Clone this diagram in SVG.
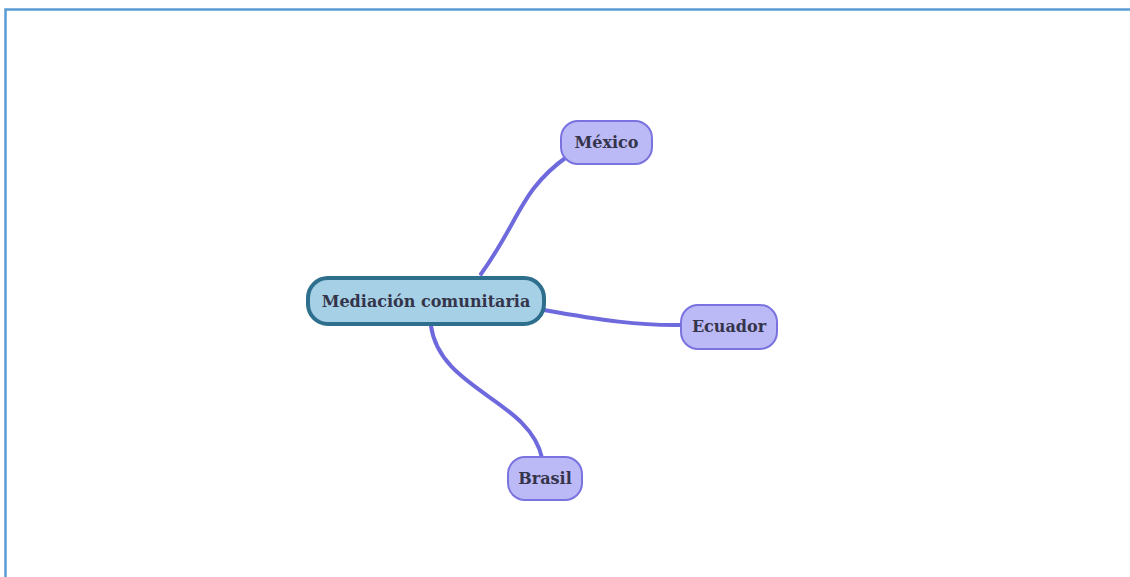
<svg xmlns="http://www.w3.org/2000/svg" width="1130" height="577" viewBox="0 0 1130 577">
<style>
.frame{fill:none;stroke:#5b9bd5;stroke-width:2.5}
.edge{fill:none;stroke:#6e69dc;stroke-width:4;stroke-linecap:round}
.leaf{fill:#bcb9f7;stroke:#7a73df;stroke-width:2}
.root{fill:#a6d0e6;stroke:#2e6f8e;stroke-width:4}
.lbl{font-family:"DejaVu Serif",serif;font-weight:bold;font-size:16px;fill:#34344a;text-anchor:middle}
</style>
<rect width="1130" height="577" fill="#ffffff"/>
<path class="frame" d="M5.5 580 V9.5 H1132"/>
<g id="connectors">
<path class="edge" d="M481 274 C520 220 520 190 568 156"/>
<path class="edge" d="M544 310 C600 320 640 326 683 325"/>
<path class="edge" d="M431 326 C440 390 530 400 542 458"/>
</g>
<g id="node-root">
<rect class="root" x="308" y="278" width="236" height="46" rx="20"/>
<text class="lbl" x="426" y="307">Mediación comunitaria</text>
</g>
<g id="node-mexico">
<rect class="leaf" x="561" y="121" width="91" height="43" rx="17"/>
<text class="lbl" x="606.5" y="148">México</text>
</g>
<g id="node-ecuador">
<rect class="leaf" x="681" y="305" width="96" height="44" rx="17"/>
<text class="lbl" x="729" y="332">Ecuador</text>
</g>
<g id="node-brasil">
<rect class="leaf" x="508" y="457" width="74" height="43" rx="17"/>
<text class="lbl" x="545" y="484">Brasil</text>
</g>
</svg>
